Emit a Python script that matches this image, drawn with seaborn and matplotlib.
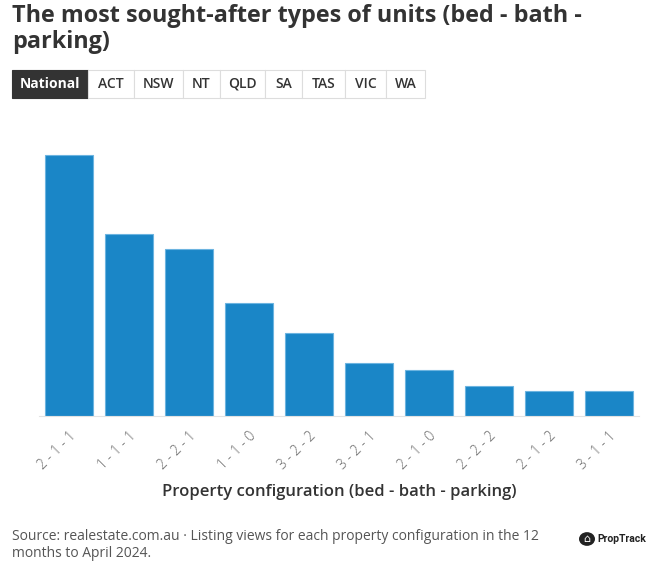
import matplotlib.pyplot as plt
import matplotlib.patches as mpatches
import seaborn as sns
import pandas as pd

configs = ['2-1-1', '1-1-1', '2-2-1', '1-1-0', '3-2-2', '3-2-1', '2-1-0', '2-2-2', '2-1-2', '3-1-1']
views = [261, 182, 167, 113, 83, 53, 46, 30, 25, 25]
tabs = ['National', 'ACT', 'NSW', 'NT', 'QLD', 'SA', 'TAS', 'VIC', 'WA']

df = pd.DataFrame({'config': configs, 'views': views})
df['label'] = df['config'].str.replace('-', ' - ')

sns.set_style('white')
plt.rcParams['font.family'] = ['Open Sans', 'DejaVu Sans']

W, H = 655, 562
fig = plt.figure(figsize=(W / 100, H / 100), dpi=100)
ax = fig.add_axes([39 / W, 1 - 416 / H, 600 / W, 270 / H])

sns.barplot(data=df, x='label', y='views', color='#1a86c7', width=0.8,
            edgecolor='#6cb4e0', linewidth=0.8, saturation=1, ax=ax)
ax.set_ylim(0, 270)
ax.set_xlim(-0.5, len(configs) - 0.5)
ax.set_yticks([])
ax.set_ylabel('')
ax.set_xlabel('')
for s in ['top', 'right', 'left']:
    ax.spines[s].set_visible(False)
ax.spines['bottom'].set_color('#e3e3e3')
ax.tick_params(axis='x', length=5, color='#e3e3e3', pad=4, labelsize=10, labelcolor='#666666')
plt.setp(ax.get_xticklabels(), rotation=45, ha='right', rotation_mode='anchor', fontweight='light')

# title
fig.text(12 / W, 1 - 4 / H, 'The most sought-after types of units (bed - bath -\nparking)',
         ha='left', va='top', fontsize=16.8, fontweight='bold', color='#333333', linespacing=1.1)

# tabs
edges = [12, 88, 134, 183, 220, 265, 302, 345, 386, 425]
for i, t in enumerate(tabs):
    x0, x1 = edges[i], edges[i + 1]
    active = i == 0
    rect = mpatches.FancyBboxPatch((x0 / W, 1 - 98 / H), (x1 - x0) / W, 28 / H,
                                   boxstyle='square,pad=0', transform=fig.transFigure,
                                   facecolor='#333333' if active else 'white',
                                   edgecolor='#333333' if active else '#dddddd', linewidth=0.8)
    fig.add_artist(rect)
    fig.text((x0 + x1) / 2 / W, 1 - 84 / H, t, ha='center', va='center', fontsize=10,
             fontweight='bold' if active else 'semibold',
             color='white' if active else '#333333')

fig.text(339 / W, 1 - 492 / H, 'Property configuration (bed - bath - parking)', ha='center',
         va='center', fontsize=12, fontweight='semibold', color='#333333')

fig.text(12 / W, 1 - 529 / H,
         'Source: realestate.com.au · Listing views for each property configuration in the 12\nmonths to April 2024.',
         ha='left', va='top', fontsize=10, color='#555555', linespacing=1.2)

# logo
circ = mpatches.Circle((587 / W, 1 - 539 / H), 8 / W, transform=fig.transFigure,
                       facecolor='#222222', edgecolor='none')
fig.add_artist(circ)
fig.text(587 / W, 1 - 539 / H, '⌂', ha='center', va='center', fontsize=8, color='white',
         family='DejaVu Sans')
fig.text(597 / W, 1 - 539 / H, 'PropTrack', ha='left', va='center', fontsize=7.5,
         fontweight='bold', color='#222222', family=['Roboto', 'DejaVu Sans'])

fig.savefig('out.png', dpi=100)
